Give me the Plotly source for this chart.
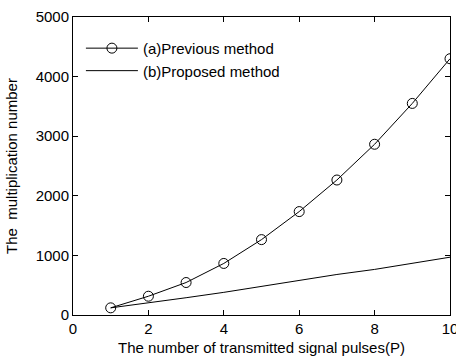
import plotly.graph_objects as go

# Number of transmitted signal pulses P
pulses = [1, 2, 3, 4, 5, 6, 7, 8, 9, 10]
# Multiplication counts for each approach
previous_method = [120, 315, 545, 865, 1265, 1735, 2265, 2865, 3550, 4300]
proposed_method = [120, 200, 290, 380, 480, 580, 680, 765, 865, 970]

x_ticks = [0, 2, 4, 6, 8, 10]
y_ticks = [0, 1000, 2000, 3000, 4000, 5000]

font_family = "Liberation Sans, Arial, sans-serif"
text_size = 15

fig = go.Figure()
fig.add_trace(go.Scatter(
    x=pulses, y=previous_method, name="(a)Previous method",
    mode="lines+markers",
    line=dict(color="black", width=1),
    marker=dict(symbol="circle-open", size=10, color="black", line=dict(width=1)),
))
fig.add_trace(go.Scatter(
    x=pulses, y=proposed_method, name="(b)Proposed method",
    mode="lines",
    line=dict(color="black", width=1),
))

axis_common = dict(
    showline=True, linecolor="black", linewidth=1, mirror="ticks",
    ticks="inside", ticklen=5, tickcolor="black", tickwidth=1,
    showgrid=False, zeroline=False, ticklabeloverflow="allow",
    automargin=False,
    tickfont=dict(family=font_family, size=text_size, color="black"),
)

fig.update_layout(
    width=456, height=359,
    margin=dict(l=73, r=6, t=17, b=44),
    paper_bgcolor="white", plot_bgcolor="white",
    font=dict(family=font_family, size=text_size, color="black"),
    showlegend=True,
    legend=dict(
        x=0.021, y=0.95, xanchor="left", yanchor="top",
        bgcolor="rgba(0,0,0,0)", borderwidth=0,
        font=dict(family=font_family, size=text_size, color="black"),
        itemwidth=52, tracegroupgap=0,
    ),
    xaxis=dict(
        range=[0, 10], tickvals=x_ticks,
        title=dict(text="The number of transmitted signal pulses(P)",
                   font=dict(family=font_family, size=text_size), standoff=6),
        **axis_common,
    ),
    yaxis=dict(
        range=[0, 5000], tickvals=y_ticks,
        title=dict(text="The  multiplication number",
                   font=dict(family=font_family, size=text_size), standoff=14),
        **axis_common,
    ),
)

fig.write_html("out.html")
